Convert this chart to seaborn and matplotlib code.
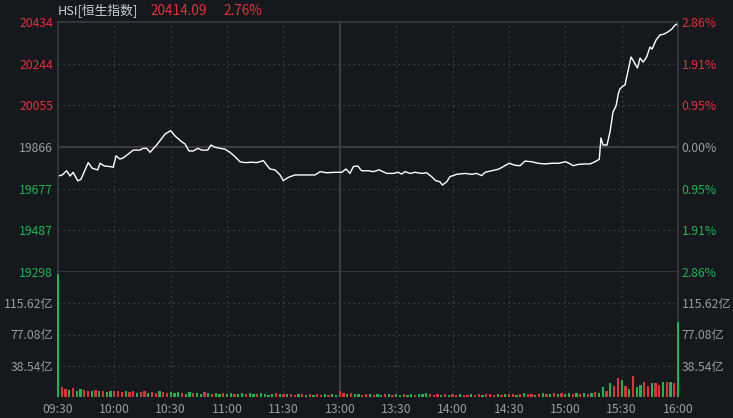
import matplotlib
matplotlib.use("Agg")
import matplotlib.pyplot as plt
import seaborn as sns

# Intraday trace, x = trading minutes since 09:30 (lunch break removed)
minutes = [0, 2.3, 4.6, 6.4, 8.1, 10.5, 12.2, 16.1, 18.3, 21.1, 22.4, 24.6, 27.7, 29.4,
           30.9, 33, 34.8, 40.1, 43.6, 45.4, 47.2, 49, 52.5, 54.3, 57, 60, 62.3, 65.8,
           67.6, 69.7, 72, 74.4, 76.5, 79.7, 81.4, 83.6, 86.2, 88.9, 91.5, 94.2, 96.9,
           99.5, 103.1, 105.8, 109.3, 112.8, 115.5, 118.2, 119.9, 122.6, 126.1, 128.8,
           136.8, 139.5, 143, 147.4, 151, 153.3, 155.4, 157.2, 159.5, 161.6, 165.2,
           167.8, 170.9, 175, 178.5, 181.1, 182.9, 184.7, 187.4, 190, 193.6, 196.2,
           198.9, 201, 203.3, 204.6, 206.9, 208.6, 212.2, 216.6, 220.2, 222.8, 225.5,
           227.3, 230.8, 234.4, 237, 240.2, 243.2, 245.9, 248.6, 252.1, 255.6, 259.2,
           262.8, 266.3, 270.2, 272, 274.3, 276.9, 280.5, 283.2, 285.8, 288.1, 289.0,
           290.1, 292.2, 293.8, 295.4, 297.0, 298.3, 299.1, 300.7, 301.8, 303.5, 305.0,
           306.3, 308.4, 309.8, 311.5, 313.3, 315.1, 316.2, 318.3, 320.4, 322.5, 324.6,
           326.7, 328.4, 329.5, 330]
prices = [19734, 19739, 19758, 19734, 19751, 19712, 19719, 19795, 19769, 19762, 19792,
          19780, 19777, 19774, 19826, 19811, 19817, 19852, 19852, 19860, 19860, 19842,
          19875, 19895, 19925, 19940, 19916, 19890, 19880, 19848, 19848, 19860, 19852,
          19852, 19875, 19865, 19860, 19856, 19842, 19822, 19799, 19795, 19797, 19795,
          19804, 19766, 19762, 19739, 19713, 19728, 19739, 19739, 19739, 19754, 19749,
          19751, 19751, 19766, 19746, 19777, 19780, 19758, 19758, 19754, 19762, 19746,
          19746, 19751, 19743, 19754, 19746, 19751, 19746, 19749, 19731, 19713, 19708,
          19693, 19708, 19731, 19742, 19746, 19742, 19746, 19736, 19751, 19758, 19765,
          19777, 19792, 19783, 19781, 19802, 19799, 19792, 19789, 19792, 19792, 19799,
          19792, 19781, 19787, 19789, 19789, 19799, 19810, 19907, 19875, 19875, 19934,
          20025, 20052, 20111, 20130, 20143, 20148, 20216, 20275, 20257, 20225, 20270,
          20252, 20275, 20320, 20311, 20352, 20375, 20379, 20389, 20402, 20420, 20425,
          20414.09]

prev_close = 19866
last_price = "20414.09"
change_pct = "2.76%"

price_ticks = [19298, 19487, 19677, 19866, 20055, 20244, 20434]
pct_labels = ["2.86%", "1.91%", "0.95%", "0.00%", "0.95%", "1.91%", "2.86%"]
vol_ticks = [38.54, 77.08, 115.62]
vol_labels = ["38.54亿", "77.08亿", "115.62亿"]
vol_top = 154.16
time_ticks = [0, 30, 60, 90, 120, 150, 180, 210, 240, 270, 300, 330]
time_labels = ["09:30", "10:00", "10:30", "11:00", "11:30", "13:00",
               "13:30", "14:00", "14:30", "15:00", "15:30", "16:00"]

# volume in 亿, two-minute buckets
volumes = [152, 12, 10, 9, 11, 8, 10, 9, 7, 8, 9, 7, 8, 6, 8, 7,
           7, 6, 8, 6, 7, 5, 6, 7, 5, 6, 5, 7, 6, 5, 6,
           5, 6, 5, 4, 6, 5, 5, 4, 6, 5, 4, 5, 4, 5, 4,
           5, 4, 4, 5, 4, 5, 4, 4, 5, 4, 3, 4, 5, 4, 4,
           4, 4, 3, 4, 4, 3, 4, 3, 4, 3, 4, 3, 4, 3, 8,
           5, 4, 5, 4, 4, 3, 4, 4, 3, 4, 3, 4, 4, 3, 4,
           3, 4, 3, 4, 3, 4, 4, 5, 4, 3, 4, 3, 4, 3, 4,
           3, 4, 3, 3, 4, 3, 4, 3, 4, 4, 3, 4, 3, 4, 4,
           4, 3, 4, 5, 4, 4, 3, 4, 5, 4, 4, 5, 4, 5, 4,
           5, 4, 5, 4, 5, 4, 5, 6, 5, 12, 8, 17, 13, 23, 21,
           14, 10, 26, 12, 15, 18, 14, 17, 17, 15, 18, 19, 18, 17, 92]
vol_dir = ("grrgrggrrgrgrggr" "rrgrrgrrgrrgrrg" "ggrggrggrgrggrg" "grggrggrggggrgr"
           "grrgrgrgrrgrggr" "rgrggrrgrggrgrg" "grggrgggrrrgrgr" "rgrrgrrgrrrgrgr"
           "rgrgrrgrgrgrgrg" "grgrgrgrggrgrrg" "rgrggrrgrrgrgrg")
vol_min = list(range(0, 331, 2))

BG = "#15181d"
RED = "#e4303a"
GREEN = "#1eb550"
GRAY = "#9a9b9d"
LINE = "#3a3c41"
DOT = "#4a4d52"

sns.set_style("dark", {"axes.facecolor": BG, "figure.facecolor": BG})
plt.rcParams["font.family"] = ["Noto Sans CJK SC", "DejaVu Sans"]
FS = 8.8

W, H = 733, 418
fig = plt.figure(figsize=(W / 100, H / 100), dpi=100)
left, right = 58 / W, 678 / W
axp = fig.add_axes([left, 1 - 272 / H, right - left, 250 / H])
axv = fig.add_axes([left, 1 - 397 / H, right - left, 125 / H])

# price panel
sns.lineplot(x=minutes, y=prices, color="white", linewidth=1.0, estimator=None,
             sort=False, ax=axp)
axp.set_xlim(0, 330)
axp.set_ylim(price_ticks[0], price_ticks[-1])
for p in price_ticks[1:-1]:
    if p == prev_close:
        axp.axhline(p, color=LINE, lw=1.6, zorder=1)
    else:
        axp.axhline(p, color=DOT, lw=0.9, ls=(0, (1, 3)), zorder=1)

# volume panel
sns.barplot(x=vol_min, y=volumes, hue=list(vol_dir), palette={"r": RED, "g": GREEN},
            native_scale=True, dodge=False, width=0.6, errorbar=None, legend=False,
            saturation=1, linewidth=0, ax=axv)
for bar in axv.patches:
    bar.set_clip_on(False)
    bar.set_zorder(3)
axv.set_xlim(0, 330)
axv.set_ylim(0, vol_top)
for v in vol_ticks:
    axv.axhline(v, color=DOT, lw=0.9, ls=(0, (1, 3)), zorder=0)

for ax in (axp, axv):
    for t in time_ticks[1:-1]:
        if t == 150:
            ax.axvline(t, color=LINE, lw=1.6, zorder=0.5)
        else:
            ax.axvline(t, color=DOT, lw=0.9, ls=(0, (1, 3)), zorder=0.5)
    ax.set_xlabel("")
    ax.set_ylabel("")
    for s in ax.spines.values():
        s.set_color(LINE)
        s.set_linewidth(1.2)
axv.spines["bottom"].set_visible(False)
axv.spines["top"].set_visible(False)

# left / right price labels
axp.set_yticks(price_ticks)
axp.set_yticklabels([str(p) for p in price_ticks])
axp.tick_params(axis="y", length=0, pad=3.5, labelsize=FS)
axp.set_xticks([])
axp2 = axp.twinx()
axp2.set_ylim(axp.get_ylim())
axp2.set_yticks(price_ticks)
axp2.set_yticklabels(pct_labels)
axp2.tick_params(axis="y", length=0, pad=2.5, labelsize=FS)
for s in axp2.spines.values():
    s.set_visible(False)
for lab_l, lab_r, p in zip(axp.get_yticklabels(), axp2.get_yticklabels(), price_ticks):
    c = RED if p > prev_close else (GREEN if p < prev_close else GRAY)
    lab_l.set_color(c)
    lab_r.set_color(c)

# volume labels
axv.set_yticks(vol_ticks)
axv.set_yticklabels(vol_labels)
axv.tick_params(axis="y", length=0, pad=3.5, labelsize=FS, labelcolor=GRAY)
axv2 = axv.twinx()
axv2.set_ylim(axv.get_ylim())
axv2.set_yticks(vol_ticks)
axv2.set_yticklabels(vol_labels)
axv2.tick_params(axis="y", length=0, pad=2.5, labelsize=FS, labelcolor=GRAY)
for s in axv2.spines.values():
    s.set_visible(False)

axv.set_xticks(time_ticks)
axv.set_xticklabels(time_labels)
axv.tick_params(axis="x", length=0, pad=4, labelsize=FS, labelcolor=GRAY)

# header
fig.text(58 / W, 1 - 11 / H, "HSI[恒生指数]", color="#c6d2de", fontsize=9.2, va="center")
fig.text(150 / W, 1 - 11 / H, last_price, color=RED, fontsize=9.8, va="center")
fig.text(223 / W, 1 - 11 / H, change_pct, color=RED, fontsize=9.8, va="center")

fig.savefig("out.png", dpi=100, facecolor=BG)
